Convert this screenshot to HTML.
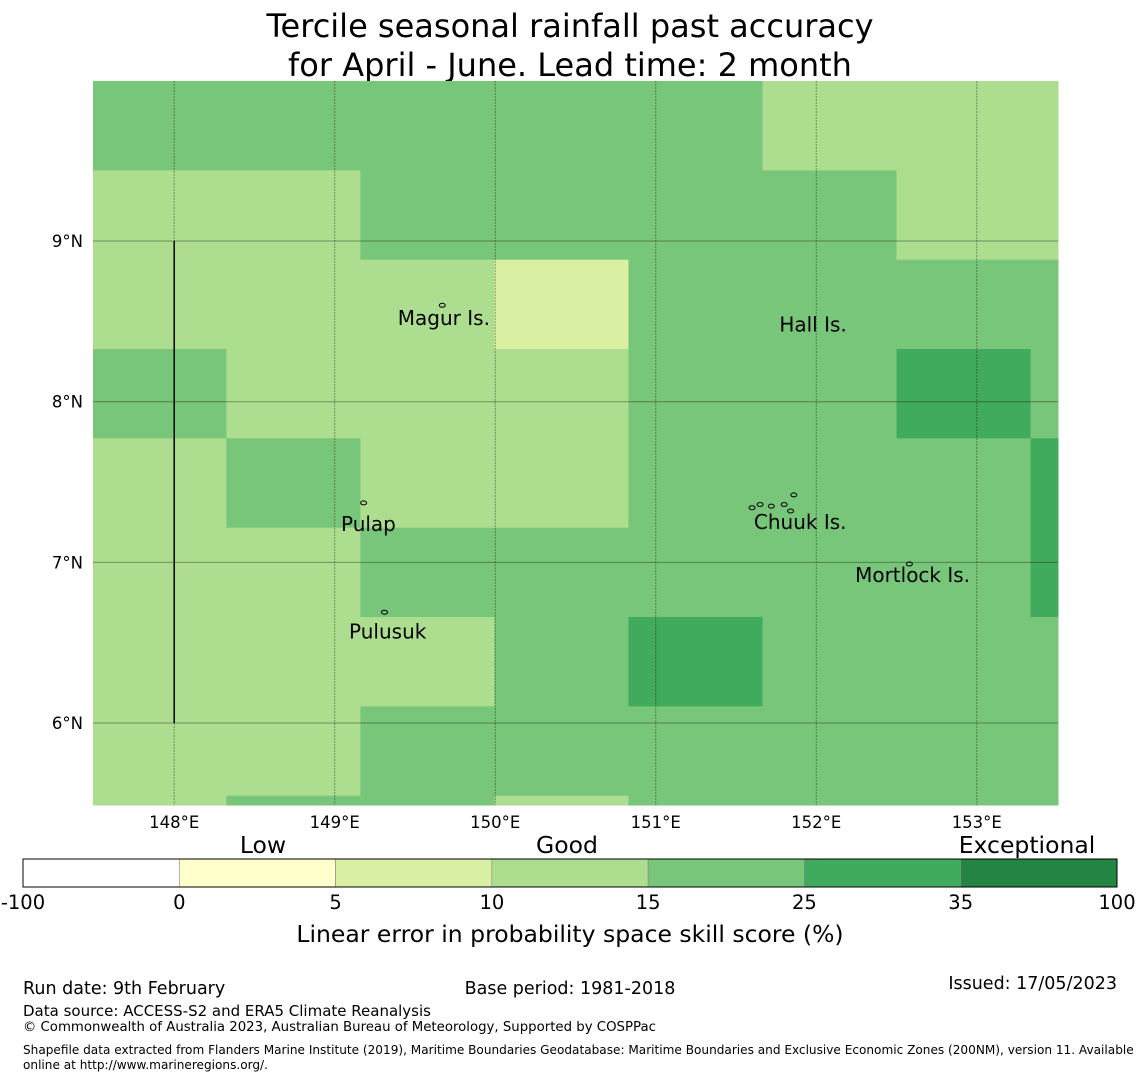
<!DOCTYPE html>
<html><head><meta charset="utf-8"><style>
body{margin:0;background:#fff;font-family:"Liberation Sans","DejaVu Sans",sans-serif;}
svg text{font-family:"DejaVu Sans","Liberation Sans",sans-serif;}
</style></head><body>
<svg id="chart" width="1140" height="1080" xmlns="http://www.w3.org/2000/svg">
<text x="570" y="37" text-anchor="middle" font-size="32">Tercile seasonal rainfall past accuracy</text>
<text x="570" y="76" text-anchor="middle" font-size="32">for April - June. Lead time: 2 month</text>
<g id="cells"></g>
<g id="grid"></g>
<g id="labels"></g>
<g id="cbar"></g>
<text x="263" y="853" text-anchor="middle" font-size="23.5">Low</text>
<text x="567" y="853" text-anchor="middle" font-size="23.5">Good</text>
<text x="1027" y="853" text-anchor="middle" font-size="23.5">Exceptional</text>
<text x="570" y="942" text-anchor="middle" font-size="23.5">Linear error in probability space skill score (%)</text>
<text x="23" y="994" font-size="17.5">Run date: 9th February</text>
<text x="570" y="994" text-anchor="middle" font-size="17.5">Base period: 1981-2018</text>
<text x="1117" y="989" text-anchor="end" font-size="17.5">Issued: 17/05/2023</text>
<text x="23" y="1016" font-size="15">Data source: ACCESS-S2 and ERA5 Climate Reanalysis</text>
<text x="23" y="1031" font-size="13.3">© Commonwealth of Australia 2023, Australian Bureau of Meteorology, Supported by COSPPac</text>
<text x="23" y="1054" font-size="12.1">Shapefile data extracted from Flanders Marine Institute (2019), Maritime Boundaries Geodatabase: Maritime Boundaries and Exclusive Economic Zones (200NM), version 11. Available</text>
<text x="23" y="1069" font-size="12.1">online at http://www.marineregions.org/.</text>
</svg>
<script>
const colors=["#ffffff","#ffffcc","#d9f0a3","#addd8e","#78c679","#41ab5d","#238443"];
const cbTicks=["-100","0","5","10","15","25","35","100"];
const lonTicks=[148,149,150,151,152,153];
const latTicks=[9,8,7,6];
const lon0=147.49, cellLon=0.835, latTop=9.996, cellLat=0.556;
const cellRows=[
[4,4,4,4,4,3,3,3],
[3,3,4,4,4,4,3,3],
[3,3,3,2,4,4,4,4],
[4,3,3,3,4,4,5,4],
[3,4,3,3,4,4,4,5],
[3,3,4,4,4,4,4,5],
[3,3,3,4,5,4,4,4],
[3,3,4,4,4,4,4,4],
[3,4,4,3,4,4,4,4]];
const islands=[["Magur Is.",149.68,8.52],["Hall Is.",151.98,8.48],["Pulap",149.21,7.24],["Chuuk Is.",151.9,7.25],["Mortlock Is.",152.6,6.92],["Pulusuk",149.33,6.57]];
const islets=[[149.67,8.6],[149.18,7.37],[149.31,6.69],[151.6,7.34],[151.65,7.36],[151.72,7.35],[151.8,7.36],[151.86,7.42],[151.84,7.32],[152.58,6.99]];
const X0=93,X1=1058,Y0=81,Y1=805;
const lonMin=147.494,lonMax=153.506,latMax=9.996,latMin=5.49;
const sx=v=>X0+(v-lonMin)/(lonMax-lonMin)*(X1-X0);
const sy=v=>Y0+(latMax-v)/(latMax-latMin)*(Y1-Y0);
const NS="http://www.w3.org/2000/svg";
function mk(t,a,p){const e=document.createElementNS(NS,t);for(const k in a)e.setAttribute(k,a[k]);p.appendChild(e);return e;}
const cg=document.getElementById('cells');
cellRows.forEach((row,r)=>row.forEach((c,i)=>{
 const xa=Math.max(X0,sx(lon0+i*cellLon)),xb=Math.min(X1,sx(lon0+(i+1)*cellLon));
 const ya=sy(latTop-r*cellLat),yb=Math.min(Y1,sy(latTop-(r+1)*cellLat));
 const e=mk('rect',{x:xa,y:ya,width:xb-xa+0.5,height:yb-ya+0.5,fill:colors[c]},cg);
 
 
}));
const gg=document.getElementById('grid');
lonTicks.forEach(v=>{const x=sx(v);
 const l=mk('line',{x1:x,x2:x,y1:Y0,y2:Y1,stroke:"#000","stroke-opacity":0.35,"stroke-width":1,"stroke-dasharray":"2,1"},gg);
 
 const t=mk('text',{x:x,y:828,"text-anchor":"middle","font-size":16.5},gg);t.textContent=v+"°E";
 });
latTicks.forEach(v=>{const y=sy(v);
 const l=mk('line',{x1:X0,x2:X1,y1:y,y2:y,stroke:"#000","stroke-opacity":0.35,"stroke-width":1},gg);
 
 const t=mk('text',{x:83,y:y+6,"text-anchor":"end","font-size":16.5},gg);t.textContent=v+"°N";
 });
const bl=mk('line',{x1:sx(148),x2:sx(148),y1:sy(9),y2:sy(6),stroke:"#000","stroke-width":1.5},gg);

islets.forEach(d=>{const e=mk('ellipse',{cx:sx(d[0]),cy:sy(d[1]),rx:3,ry:2,fill:"none",stroke:"#000","stroke-width":1},gg);
 });
const lg=document.getElementById('labels');
islands.forEach(d=>{const t=mk('text',{x:sx(d[1]),y:sy(d[2])+7,"text-anchor":"middle","font-size":20},lg);t.textContent=d[0];
 });
const cb=document.getElementById('cbar');
const CX0=23,CX1=1117,segW=(CX1-CX0)/colors.length;
colors.forEach((c,i)=>{const r=mk('rect',{x:CX0+i*segW,y:859,width:segW,height:28,fill:c,stroke:"#888","stroke-width":0.6},cb);
 });
mk('rect',{x:CX0,y:859,width:CX1-CX0,height:28,fill:"none",stroke:"#000","stroke-width":1},cb);
cbTicks.forEach((s,i)=>{const t=mk('text',{x:CX0+i*segW,y:909,"text-anchor":"middle","font-size":19.5},cb);t.textContent=s;
 });
</script>
</body></html>
